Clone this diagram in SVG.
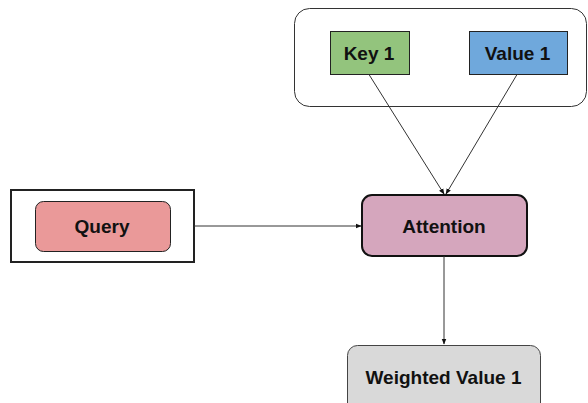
<svg xmlns="http://www.w3.org/2000/svg" width="588" height="403" viewBox="0 0 588 403">
  <style>
    .lbl { font-family: "Liberation Sans", Arial, sans-serif; font-weight: bold; font-size: 19px; fill: #111; text-anchor: middle; dominant-baseline: central; }
    .edge { stroke: #333; stroke-width: 1; fill: none; marker-end: url(#arrow); }
  </style>
  <defs>
    <marker id="arrow" viewBox="0 0 10 10" refX="9" refY="5" markerWidth="6" markerHeight="6" orient="auto" markerUnits="userSpaceOnUse">
      <path d="M0,1 L10,5 L0,9 Z" fill="#111"/>
    </marker>
  </defs>
  <rect width="588" height="403" fill="#fff"/>

  <g id="memory">
    <rect x="294.5" y="8.5" width="292" height="98" rx="15" fill="#fff" stroke="#333" stroke-width="1"/>
  </g>
  <g id="key1">
    <rect x="330.5" y="31.5" width="79" height="43" fill="#93c47d" stroke="#222" stroke-width="1"/>
    <text class="lbl" x="369" y="53">Key 1</text>
  </g>
  <g id="value1">
    <rect x="469.5" y="31.5" width="98" height="43" fill="#6fa8dc" stroke="#222" stroke-width="1"/>
    <text class="lbl" x="517.5" y="53">Value 1</text>
  </g>

  <g id="query-frame">
    <rect x="11" y="190" width="183" height="72" fill="#fff" stroke="#222" stroke-width="2"/>
  </g>
  <g id="query">
    <rect x="35.5" y="201.5" width="135" height="50" rx="8" fill="#ea9999" stroke="#222" stroke-width="1"/>
    <text class="lbl" x="102" y="226.5">Query</text>
  </g>

  <g id="attention">
    <rect x="362" y="195" width="165" height="61" rx="10" fill="#d5a6bd" stroke="#111" stroke-width="2"/>
    <text class="lbl" x="444" y="226">Attention</text>
  </g>

  <g id="weighted">
    <rect x="347.5" y="345.5" width="193" height="70" rx="10" fill="#d9d9d9" stroke="#444" stroke-width="1"/>
    <text class="lbl" x="443.5" y="377.5">Weighted Value 1</text>
  </g>

  <g id="connectors">
    <path class="edge" d="M369,74.5 L444,194"/>
    <path class="edge" d="M517,74.5 L446,194"/>
    <path class="edge" d="M194,226 L361,226"/>
    <path class="edge" d="M444,256 L444,344"/>
  </g>
</svg>
